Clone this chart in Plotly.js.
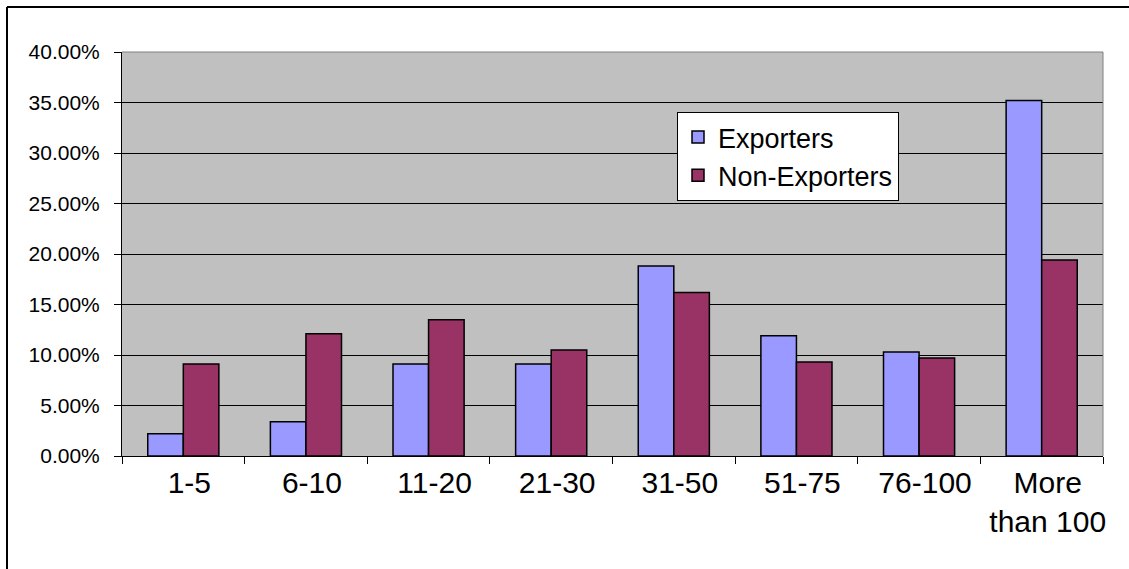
<!DOCTYPE html>
<html>
<head>
<meta charset="utf-8">
<script src="https://cdn.plot.ly/plotly-3.0.1.min.js"></script>
<style>
  html, body { margin: 0; padding: 0; background: #ffffff; }
  #chart { width: 1129px; height: 569px; }
</style>
</head>
<body>
<div id="chart"></div>
<script>
// Share of firms by size band (number of employees), in percent
const sizeBands = ['1-5', '6-10', '11-20', '21-30', '31-50', '51-75', '76-100', 'More<br>than 100'];
const exporters = [2.2, 3.4, 9.1, 9.1, 18.8, 11.9, 10.3, 35.2];
const nonExporters = [9.1, 12.1, 13.5, 10.5, 16.2, 9.3, 9.7, 19.4];
const yTicks = [0, 5, 10, 15, 20, 25, 30, 35, 40];

const W = 1129, H = 569;
const M = { l: 122, r: 26, t: 52, b: 113 };
const pw = W - M.l - M.r, ph = H - M.t - M.b;
// convert page pixels to paper coordinates for the outer frame
const px = x => (x - M.l) / pw;
const py = y => (H - M.b - y) / ph;

const font = 'Liberation Sans, Arial, sans-serif';

const traces = [
  {
    type: 'bar', name: 'Exporters', x: sizeBands, y: exporters,
    legendgroup: 'a',
    marker: { color: '#9999FF', line: { color: '#000000', width: 1.5 } },
    hoverinfo: 'x+y'
  },
  {
    type: 'bar', name: 'Non-Exporters', x: sizeBands, y: nonExporters,
    legendgroup: 'b',
    marker: { color: '#993366', line: { color: '#000000', width: 1.5 } },
    hoverinfo: 'x+y'
  }
];

const layout = {
  width: W, height: H,
  margin: M,
  paper_bgcolor: '#ffffff',
  plot_bgcolor: '#C0C0C0',
  font: { family: font, color: '#000000' },
  barmode: 'group',
  bargap: 0.42,
  bargroupgap: 0,
  showlegend: true,
  legend: {
    x: px(677), y: py(112), xanchor: 'left', yanchor: 'top',
    bgcolor: '#ffffff', bordercolor: '#000000', borderwidth: 1,
    font: { family: font, size: 27, color: '#000000' },
    tracegroupgap: 6, traceorder: 'normal'
  },
  xaxis: {
    type: 'category',
    showgrid: false,
    showline: true, linecolor: '#000000', linewidth: 1,
    ticks: 'outside', tickson: 'boundaries', ticklen: 7, tickcolor: '#000000', tickwidth: 1,
    tickfont: { family: font, size: 30, color: '#000000' },
    tickangle: 0,
    automargin: false,
    ticklabelshift: 6,
    fixedrange: true
  },
  yaxis: {
    range: [0, 40],
    tickvals: yTicks,
    ticktext: yTicks.map(v => v.toFixed(2) + '%'),
    showgrid: true, gridcolor: '#000000', gridwidth: 1,
    showline: true, linecolor: '#000000', linewidth: 1,
    zeroline: false,
    ticks: 'outside', ticklen: 7, tickcolor: '#000000', tickwidth: 1,
    tickfont: { family: font, size: 21, color: '#000000' },
    ticklabelstandoff: 10,
    automargin: false,
    fixedrange: true
  },
  shapes: [
    // grey top and right edges of the plot area
    { type: 'line', xref: 'paper', yref: 'paper', x0: 0, x1: 1, y0: 1, y1: 1,
      line: { color: '#808080', width: 1 } },
    { type: 'line', xref: 'paper', yref: 'paper', x0: 1, x1: 1, y0: 0, y1: 1,
      line: { color: '#808080', width: 1 } },
    // chart frame (top and left edges)
    { type: 'line', xref: 'paper', yref: 'paper', x0: px(7), x1: px(W + 5), y0: py(7), y1: py(7),
      line: { color: '#000000', width: 2 } },
    { type: 'line', xref: 'paper', yref: 'paper', x0: px(7), x1: px(7), y0: py(7), y1: py(H + 5),
      line: { color: '#000000', width: 2 } }
  ]
};

Plotly.newPlot('chart', traces, layout, { displayModeBar: false, staticPlot: true });
</script>
</body>
</html>
